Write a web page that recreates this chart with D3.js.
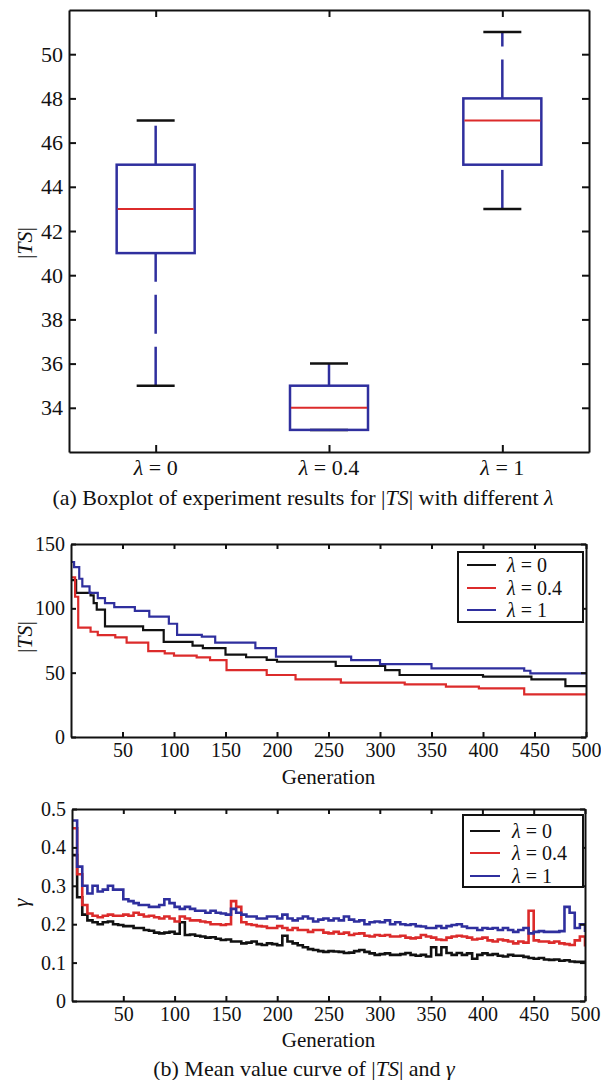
<!DOCTYPE html>
<html>
<head>
<meta charset="utf-8">
<script src="https://cdn.jsdelivr.net/npm/d3@7"></script>
<style>
body { margin: 0; background: #fff; }
svg, text { font-family: "Liberation Serif", "Times New Roman", serif; }
text { fill: #111; }
</style>
</head>
<body>
<div id="chart"></div>
<script>
// Box plot values (|TS| per lambda)
const boxLabels = ["0", "0.4", "1"];
const boxQ1 = [41, 33, 45];
const boxMedian = [43, 34, 47];
const boxQ3 = [45, 35, 48];
const whiskerLow = [35, 33, 43];
const whiskerHigh = [47, 36, 51];
const boxYTicks = [34, 36, 38, 40, 42, 44, 46, 48, 50];

// |TS| mean curves, step change points (generation where the value starts, value)
const tsBlackGen = [1, 5, 19, 22, 25, 33, 70, 90, 118, 128, 150, 170, 190, 200, 257, 305, 319, 400, 447, 480, 500];
const tsBlackVal = [122, 112, 110, 104, 99, 86, 83, 74, 71, 69, 64, 62, 60, 58.5, 55.2, 52, 48.2, 46.9, 44.8, 39.6, 39.6];
const tsRedGen = [1, 4, 7, 19, 26, 43, 54, 75, 91, 100, 122, 135, 151, 190, 218, 262, 324, 364, 396, 440, 500];
const tsRedVal = [124, 109, 85, 81.8, 79.2, 77.4, 73.3, 66.8, 65, 63.2, 61.9, 59.8, 52, 48.2, 44.8, 42.2, 40.9, 39.1, 37.8, 33.2, 33.2];
const tsBlueGen = [1, 3, 8, 11, 18, 26, 33, 42, 62, 76, 95, 103, 127, 140, 179, 199, 272, 300, 350, 440, 446, 500];
const tsBlueVal = [136, 132, 123, 117, 112, 108, 104, 101, 98, 93.5, 88, 79.3, 78, 73.3, 69, 62.4, 59.8, 56.7, 53.3, 51.5, 49.5, 49.5];
const tsYTicks = [0, 50, 100, 150];
const genTicks = [50, 100, 150, 200, 250, 300, 350, 400, 450, 500];

// gamma mean curves, sampled every 5 generations
const gammaGen = [1, 5, 10, 15, 20, 25, 30, 35, 40, 45, 50, 55, 60, 65, 70, 75, 80, 85, 90, 95,
  100, 105, 110, 115, 120, 125, 130, 135, 140, 145, 150, 155, 160, 165, 170, 175, 180, 185, 190, 195,
  200, 205, 210, 215, 220, 225, 230, 235, 240, 245, 250, 255, 260, 265, 270, 275, 280, 285, 290, 295,
  300, 305, 310, 315, 320, 325, 330, 335, 340, 345, 350, 355, 360, 365, 370, 375, 380, 385, 390, 395,
  400, 405, 410, 415, 420, 425, 430, 435, 440, 445, 450, 455, 460, 465, 470, 475, 480, 485, 490, 495, 500];
const gammaBlack = [0.38, 0.27, 0.225, 0.21, 0.205, 0.2, 0.205, 0.207, 0.2, 0.198, 0.195, 0.195, 0.19, 0.19, 0.185, 0.183, 0.178, 0.176, 0.178, 0.18,
  0.175, 0.205, 0.172, 0.173, 0.17, 0.168, 0.165, 0.166, 0.162, 0.159, 0.16, 0.155, 0.155, 0.15, 0.152, 0.155, 0.148, 0.146, 0.15, 0.148,
  0.145, 0.17, 0.155, 0.15, 0.145, 0.14, 0.135, 0.133, 0.13, 0.128, 0.13, 0.129, 0.128, 0.125, 0.126, 0.13, 0.133, 0.128, 0.124, 0.12,
  0.122, 0.124, 0.12, 0.12, 0.122, 0.125, 0.12, 0.118, 0.12, 0.116, 0.14, 0.12, 0.14, 0.125, 0.12, 0.125, 0.12, 0.124, 0.11, 0.12,
  0.124, 0.12, 0.122, 0.118, 0.116, 0.12, 0.118, 0.118, 0.115, 0.112, 0.11, 0.112, 0.108, 0.107, 0.108, 0.105, 0.106, 0.103, 0.102, 0.102, 0.102];
const gammaRed = [0.45, 0.33, 0.25, 0.228, 0.222, 0.218, 0.222, 0.225, 0.222, 0.222, 0.225, 0.222, 0.23, 0.225, 0.22, 0.222, 0.218, 0.215, 0.22, 0.215,
  0.207, 0.22, 0.215, 0.21, 0.21, 0.207, 0.205, 0.2, 0.2, 0.198, 0.2, 0.26, 0.245, 0.205, 0.2, 0.198, 0.195, 0.194, 0.19, 0.19,
  0.195, 0.19, 0.185, 0.19, 0.185, 0.185, 0.18, 0.185, 0.185, 0.178, 0.176, 0.18, 0.175, 0.178, 0.172, 0.175, 0.176, 0.17, 0.168, 0.172,
  0.17, 0.172, 0.168, 0.168, 0.17, 0.165, 0.163, 0.165, 0.172, 0.168, 0.165, 0.16, 0.159, 0.165, 0.168, 0.17, 0.168, 0.165, 0.16, 0.162,
  0.165, 0.158, 0.155, 0.16, 0.158, 0.155, 0.15, 0.155, 0.152, 0.235, 0.158, 0.155, 0.155, 0.152, 0.155, 0.15, 0.148, 0.146, 0.158, 0.168, 0.142];
const gammaBlue = [0.47, 0.35, 0.3, 0.28, 0.3, 0.285, 0.29, 0.3, 0.29, 0.29, 0.265, 0.26, 0.255, 0.25, 0.25, 0.245, 0.245, 0.25, 0.265, 0.255,
  0.245, 0.24, 0.245, 0.24, 0.235, 0.235, 0.23, 0.235, 0.23, 0.228, 0.225, 0.24, 0.23, 0.225, 0.22, 0.22, 0.215, 0.215, 0.22, 0.22,
  0.215, 0.225, 0.215, 0.21, 0.215, 0.22, 0.215, 0.207, 0.212, 0.215, 0.21, 0.215, 0.21, 0.22, 0.212, 0.207, 0.21, 0.2, 0.205, 0.207,
  0.205, 0.21, 0.2, 0.205, 0.2, 0.198, 0.2, 0.195, 0.194, 0.19, 0.19, 0.195, 0.19, 0.195, 0.198, 0.2, 0.194, 0.19, 0.19, 0.185,
  0.19, 0.188, 0.19, 0.185, 0.19, 0.185, 0.18, 0.185, 0.19, 0.176, 0.18, 0.182, 0.18, 0.18, 0.18, 0.182, 0.245, 0.23, 0.19, 0.2, 0.18];
const gammaYTicks = [0, 0.1, 0.2, 0.3, 0.4, 0.5];

const legendLabels = ["0", "0.4", "1"];

const blue = "#2f2f9e";
const red = "#dc2b2b";
const black = "#111111";
const seriesColors = [black, red, blue];
const serif = '"Liberation Serif", "Times New Roman", serif';

const svg = d3.select("#chart")
    .append("svg")
    .attr("width", 601)
    .attr("height", 1080)
    .style("font-family", serif);

// Title Frame
// Description draws a MATLAB style box with inward ticks on all four sides
function frame(svg, x, y, box, xTicks, yTicks, tickLen, fontSize, xLabels) {

    const styleAxis = function(g) {
        g.attr("font-family", serif).attr("font-size", fontSize);
        g.select(".domain").attr("stroke", black).attr("stroke-width", 2);
        g.selectAll(".tick line").attr("stroke", black).attr("stroke-width", 2);
        g.selectAll(".tick text").attr("fill", black).style("font-family", serif);
    };

    svg.append("g")
        .attr("transform", `translate(${box.left},0)`)
        .call(d3.axisLeft(y).tickValues(yTicks).tickSizeInner(-tickLen).tickSizeOuter(0).tickPadding(6)
            .tickFormat(function(d) { return String(d); }))
        .call(styleAxis);

    svg.append("g")
        .attr("transform", `translate(${box.right},0)`)
        .call(d3.axisRight(y).tickValues(yTicks).tickSizeInner(-tickLen).tickSizeOuter(0).tickFormat(""))
        .call(styleAxis);

    svg.append("g")
        .attr("transform", `translate(0,${box.bottom})`)
        .call(d3.axisBottom(x).tickValues(xTicks).tickSizeInner(-tickLen).tickSizeOuter(0).tickPadding(6)
            .tickFormat(xLabels ? "" : function(d) { return String(d); }))
        .call(styleAxis);

    svg.append("g")
        .attr("transform", `translate(0,${box.top})`)
        .call(d3.axisTop(x).tickValues(xTicks).tickSizeInner(-tickLen).tickSizeOuter(0).tickFormat(""))
        .call(styleAxis);
}

// Title Rich text
// Description appends text made of plain and italic pieces
function richText(sel, parts) {
    sel.style("font-family", serif);
    parts.forEach(function(p) {
        sel.append("tspan")
            .style("font-style", p[1] ? "italic" : "normal")
            .text(p[0]);
    });
    return sel;
}

function yLabel(svg, cx, cy, parts) {
    const t = svg.append("text")
        .attr("transform", `translate(${cx},${cy}) rotate(-90)`)
        .attr("text-anchor", "middle")
        .attr("font-size", 22);
    richText(t, parts);
}

// Title Box plot
function boxPlot(svg) {

    const box = {left: 69, right: 589, top: 10, bottom: 452};

    const x = d3.scaleLinear().domain([0.5, 3.5]).range([box.left, box.right]);
    const y = d3.scaleLinear().domain([32, 52]).range([box.bottom, box.top]);
    const idx = [1, 2, 3];

    frame(svg, x, y, box, idx, boxYTicks, 7, 22, true);

    idx.forEach(function(k, i) {
        const cx = x(k);
        const hw = 39;
        const cap = 19;

        // whiskers, dashed, drawn upward
        svg.append("line")
            .attr("x1", cx).attr("x2", cx)
            .attr("y1", y(whiskerLow[i])).attr("y2", y(boxQ1[i]))
            .attr("stroke", blue).attr("stroke-width", 2.5)
            .attr("stroke-dasharray", "39,13");
        svg.append("line")
            .attr("x1", cx).attr("x2", cx)
            .attr("y1", y(boxQ3[i])).attr("y2", y(whiskerHigh[i]))
            .attr("stroke", blue).attr("stroke-width", 2.5)
            .attr("stroke-dasharray", "39,13");

        // caps
        [whiskerLow[i], whiskerHigh[i]].forEach(function(v) {
            svg.append("line")
                .attr("x1", cx - cap).attr("x2", cx + cap)
                .attr("y1", y(v)).attr("y2", y(v))
                .attr("stroke", black).attr("stroke-width", 2.5);
        });

        svg.append("rect")
            .attr("x", cx - hw)
            .attr("y", y(boxQ3[i]))
            .attr("width", 2 * hw)
            .attr("height", y(boxQ1[i]) - y(boxQ3[i]))
            .attr("fill", "none")
            .attr("stroke", blue)
            .attr("stroke-width", 2.5);

        svg.append("line")
            .attr("x1", cx - hw + 1).attr("x2", cx + hw - 1)
            .attr("y1", y(boxMedian[i])).attr("y2", y(boxMedian[i]))
            .attr("stroke", red).attr("stroke-width", 2);

        const t = svg.append("text")
            .attr("x", cx)
            .attr("y", 475)
            .attr("text-anchor", "middle")
            .attr("font-size", 22);
        richText(t, [["λ", true], [" = " + boxLabels[i], false]]);
    });

    yLabel(svg, 32, 243, [["|", false], ["TS", true], ["|", false]]);

    const cap = svg.append("text")
        .attr("x", 303)
        .attr("y", 505)
        .attr("text-anchor", "middle")
        .attr("font-size", 22);
    richText(cap, [["(a) Boxplot of experiment results for |", false], ["TS", true],
        ["| with different ", false], ["λ", true]]);
}

// Title Legend
function legend(svg, lg) {
    svg.append("rect")
        .attr("x", lg.x).attr("y", lg.y)
        .attr("width", lg.w).attr("height", lg.h)
        .attr("fill", "#fff")
        .attr("stroke", black)
        .attr("stroke-width", 2);

    legendLabels.forEach(function(lab, i) {
        const ry = lg.rows[i];
        svg.append("line")
            .attr("x1", lg.lx1).attr("x2", lg.lx2)
            .attr("y1", ry).attr("y2", ry)
            .attr("stroke", seriesColors[i])
            .attr("stroke-width", 2);
        const t = svg.append("text")
            .attr("x", lg.tx)
            .attr("y", ry + 7)
            .attr("font-size", 20);
        richText(t, [["λ", true], [" = " + lab, false]]);
    });
}

// Title Line chart
function lineChart(svg, opt) {

    const box = opt.box;
    const x = d3.scaleLinear().domain([0, 500]).range([box.left, box.right]);
    const y = d3.scaleLinear().domain(opt.yDomain).range([box.bottom, box.top]);

    svg.append("clipPath")
        .attr("id", opt.id)
        .append("rect")
        .attr("x", box.left).attr("y", box.top)
        .attr("width", box.right - box.left)
        .attr("height", box.bottom - box.top);

    const line = d3.line()
        .x(function(d) { return x(d[0]); })
        .y(function(d) { return y(d[1]); })
        .curve(d3.curveStepAfter);

    opt.series.forEach(function(s) {
        const pts = s.gen.map(function(g, j) { return [g, s.val[j]]; });
        svg.append("path")
            .datum(pts)
            .attr("clip-path", `url(#${opt.id})`)
            .attr("d", line)
            .attr("fill", "none")
            .attr("stroke", s.color)
            .attr("stroke-width", opt.lineWidth);
    });

    frame(svg, x, y, box, genTicks, opt.yTicks, 5, 20, false);

    svg.append("text")
        .attr("x", (box.left + box.right) / 2)
        .attr("y", opt.xLabelY)
        .attr("text-anchor", "middle")
        .attr("font-size", 21)
        .style("font-family", serif)
        .text("Generation");

    yLabel(svg, opt.yLabelX, opt.yLabelY, opt.yLabel);
    legend(svg, opt.legend);
}

boxPlot(svg);

lineChart(svg, {
    id: "clip-ts",
    box: {left: 71, right: 586, top: 544, bottom: 737},
    yDomain: [0, 150],
    yTicks: tsYTicks,
    lineWidth: 2.2,
    xLabelY: 784,
    yLabelX: 32, yLabelY: 637,
    yLabel: [["|", false], ["TS", true], ["|", false]],
    series: [
        {gen: tsBlackGen, val: tsBlackVal, color: black},
        {gen: tsRedGen, val: tsRedVal, color: red},
        {gen: tsBlueGen, val: tsBlueVal, color: blue}
    ],
    legend: {x: 458, y: 552, w: 125, h: 70, lx1: 467, lx2: 496, tx: 507, rows: [565, 588, 610]}
});

lineChart(svg, {
    id: "clip-gamma",
    box: {left: 72, right: 585, top: 809, bottom: 1001},
    yDomain: [0, 0.5],
    yTicks: gammaYTicks,
    lineWidth: 2.6,
    xLabelY: 1047,
    yLabelX: 28, yLabelY: 903,
    yLabel: [["γ", true]],
    series: [
        {gen: gammaGen, val: gammaBlack, color: black},
        {gen: gammaGen, val: gammaRed, color: red},
        {gen: gammaGen, val: gammaBlue, color: blue}
    ],
    legend: {x: 463, y: 815, w: 120, h: 72, lx1: 470, lx2: 500, tx: 512, rows: [831, 853, 876]}
});

const capB = svg.append("text")
    .attr("x", 304)
    .attr("y", 1076)
    .attr("text-anchor", "middle")
    .attr("font-size", 22);
richText(capB, [["(b) Mean value curve of |", false], ["TS", true], ["| and ", false], ["γ", true]]);
</script>
</body>
</html>
